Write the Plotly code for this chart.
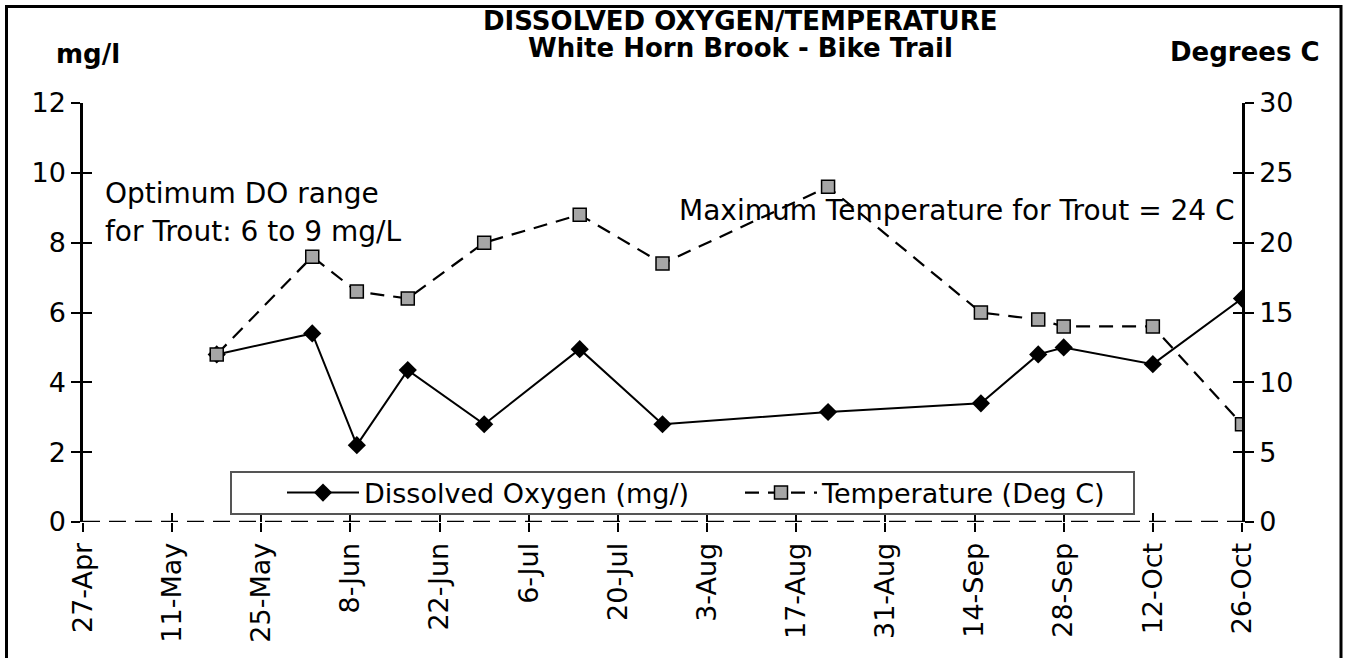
import plotly.graph_objects as go

# ---- data ----
dates = ["2009-05-18", "2009-06-02", "2009-06-09", "2009-06-17", "2009-06-29",
         "2009-07-14", "2009-07-27", "2009-08-22", "2009-09-15", "2009-09-24",
         "2009-09-28", "2009-10-12", "2009-10-26"]
dissolved_oxygen = [4.8, 5.4, 2.2, 4.35, 2.8, 4.95, 2.8, 3.15, 3.4, 4.8, 5.0, 4.52, 6.4]
temperature = [12.0, 19.0, 16.5, 16.0, 20.0, 22.0, 18.5, 24.0, 15.0, 14.5, 14.0, 14.0, 7.0]
x_start, x_end = "2009-04-27", "2009-10-26"
left_ticks = [0, 2, 4, 6, 8, 10, 12]
right_ticks = [0, 5, 10, 15, 20, 25, 30]

FONT = "DejaVu Sans"
W, H = 1346, 658
L, R, T, B = 83, 104, 103, 136
pw, ph = W - L - R, H - T - B

def px2paper_x(px):
    return (px - L) / pw

def px2paper_y(py):
    return (H - B - py) / ph

fig = go.Figure()

fig.add_trace(go.Scatter(
    x=dates, y=dissolved_oxygen, name="Dissolved Oxygen (mg/)",
    mode="lines+markers",
    line=dict(color="black", width=2),
    marker=dict(symbol="diamond", size=14, color="black"),
    yaxis="y"))

fig.add_trace(go.Scatter(
    x=dates, y=temperature, name="Temperature (Deg C)",
    mode="lines+markers",
    line=dict(color="black", width=2.2, dash="14px,9px"),
    marker=dict(symbol="square", size=13, color="#a6a6a6",
                line=dict(color="black", width=1.5)),
    yaxis="y2"))

# invisible helpers so the overlay tick axes render
fig.add_trace(go.Scatter(x=[x_start], y=[0], xaxis="x2", yaxis="y3",
                         mode="markers", marker=dict(opacity=0),
                         showlegend=False, hoverinfo="skip"))
fig.add_trace(go.Scatter(x=[x_start], y=[0], xaxis="x2", yaxis="y4",
                         mode="markers", marker=dict(opacity=0),
                         showlegend=False, hoverinfo="skip"))

dtick = 14 * 86400000
tickfont = dict(family=FONT, size=27, color="black")

fig.update_layout(
    width=W, height=H,
    margin=dict(l=L, r=R, t=T, b=B),
    paper_bgcolor="white", plot_bgcolor="white",
    font=dict(family=FONT, color="black"),
    showlegend=True,
    legend=dict(
        orientation="h", x=px2paper_x(282), xanchor="left",
        y=px2paper_y(493), yanchor="middle",
        bgcolor="rgba(0,0,0,0)", borderwidth=0,
        font=dict(family=FONT, size=27, color="black"),
        entrywidth=371, entrywidthmode="pixels",
        itemwidth=72,
    ),
    xaxis=dict(
        type="date", range=[x_start, x_end],
        tick0=x_start, dtick=dtick, tickformat="%-d-%b",
        tickangle=-90, ticks="outside", ticklen=9, tickwidth=2, tickcolor="black",
        showline=False, showgrid=False, zeroline=False,
        tickfont=tickfont,
    ),
    xaxis2=dict(
        type="date", overlaying="x", matches="x", anchor="y",
        tick0=x_start, dtick=dtick,
        ticks="inside", ticklen=9, tickwidth=2, tickcolor="black",
        showticklabels=False, showline=False, showgrid=False, zeroline=False,
    ),
    yaxis=dict(
        range=[0, 12], tickvals=left_ticks,
        ticks="outside", ticklen=9, tickwidth=2, tickcolor="black",
        showline=True, linecolor="black", linewidth=2.5,
        showgrid=False, zeroline=False, tickfont=tickfont,
    ),
    yaxis2=dict(
        range=[0, 30], tickvals=right_ticks, overlaying="y", side="right",
        ticks="outside", ticklen=9, tickwidth=2, tickcolor="black",
        showline=True, linecolor="black", linewidth=2.5,
        showgrid=False, zeroline=False, tickfont=tickfont,
    ),
    yaxis3=dict(
        range=[0, 12], tickvals=left_ticks, overlaying="y", side="left", anchor="x",
        ticks="inside", ticklen=9, tickwidth=2, tickcolor="black",
        showticklabels=False, showline=False, showgrid=False, zeroline=False,
    ),
    yaxis4=dict(
        range=[0, 30], tickvals=right_ticks, overlaying="y", side="right", anchor="x",
        ticks="inside", ticklen=9, tickwidth=2, tickcolor="black",
        showticklabels=False, showline=False, showgrid=False, zeroline=False,
    ),
)

# dashed baseline at zero
fig.add_shape(type="line", xref="paper", yref="y", x0=0, x1=1, y0=0, y1=0,
              line=dict(color="black", width=2.6, dash="17px,9px"), layer="below")

# legend box
fig.add_shape(type="rect", xref="paper", yref="paper",
              x0=px2paper_x(231), x1=px2paper_x(1134),
              y0=px2paper_y(514), y1=px2paper_y(472),
              line=dict(color="#555555", width=2), fillcolor="white", layer="above")

# outer frame
fig.add_shape(type="rect", xref="paper", yref="paper",
              x0=px2paper_x(6.5), x1=px2paper_x(1341),
              y0=px2paper_y(700), y1=px2paper_y(6.5),
              line=dict(color="black", width=3), fillcolor="rgba(0,0,0,0)")

ann = []
ann.append(dict(text="<b>DISSOLVED OXYGEN/TEMPERATURE</b>", x=px2paper_x(740), y=px2paper_y(21),
                font=dict(family=FONT, size=26)))
ann.append(dict(text="<b>White Horn Brook - Bike Trail</b>", x=px2paper_x(740), y=px2paper_y(48),
                font=dict(family=FONT, size=26)))
ann.append(dict(text="<b>mg/l</b>", x=px2paper_x(88), y=px2paper_y(54),
                font=dict(family=FONT, size=26)))
ann.append(dict(text="<b>Degrees C</b>", x=px2paper_x(1245), y=px2paper_y(52),
                font=dict(family=FONT, size=26)))
ann.append(dict(text="Optimum DO range", x=px2paper_x(103), y=px2paper_y(193),
                xanchor="left", font=dict(family=FONT, size=28)))
ann.append(dict(text="for Trout: 6 to 9 mg/L", x=px2paper_x(103), y=px2paper_y(231),
                xanchor="left", font=dict(family=FONT, size=28)))
ann.append(dict(text="Maximum Temperature for Trout = 24 C", x=px2paper_x(1237), y=px2paper_y(210),
                xanchor="right", font=dict(family=FONT, size=28)))
for a in ann:
    a.update(xref="paper", yref="paper", showarrow=False, yanchor="middle")
    a.setdefault("xanchor", "center")
    a["font"]["color"] = "black"
fig.update_layout(annotations=ann)

fig.write_html("out.html",
               config={"displayModeBar": False},
               post_script="document.body.style.margin='0';document.body.style.overflow='hidden';")
